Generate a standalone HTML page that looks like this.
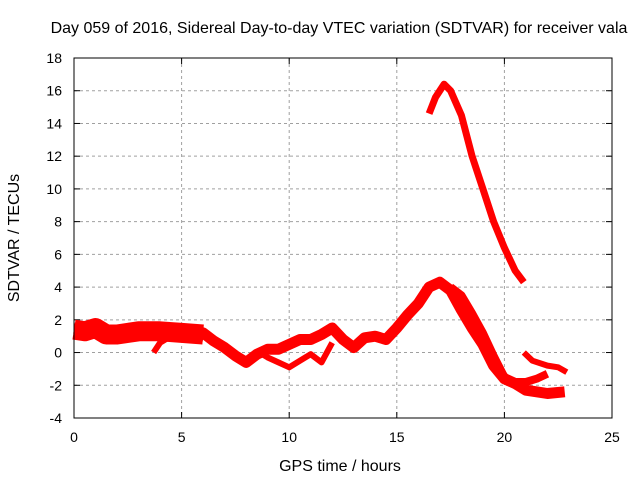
<!DOCTYPE html>
<html><head><meta charset="utf-8"><style>
body{margin:0;background:#fff}
svg{display:block;font-family:"Liberation Sans",sans-serif;font-size:14px}
</style></head><body>
<svg id="c" width="640" height="480">
<rect width="640" height="480" fill="#fff"/>
<text x="339" y="33" text-anchor="middle" style="font-size:16px">Day 059 of 2016, Sidereal Day-to-day VTEC variation (SDTVAR) for receiver vala</text>
<text x="340" y="471" text-anchor="middle" style="font-size:16px">GPS time / hours</text>
<text transform="translate(19,238) rotate(-90)" text-anchor="middle" style="font-size:16px">SDTVAR / TECUs</text>
<g id="grid"></g><g id="axes"></g><g id="series"></g>
<rect x="74" y="58" width="538" height="360" fill="none" stroke="#000"/>
</svg>
<script>
const xTicks=[0,5,10,15,20,25];
const yTicks=[-4,-2,0,2,4,6,8,10,12,14,16,18];
const mainX=[0,0.5,1,1.5,2,3,4,5,6,6.5,7,7.5,8,8.5,9,9.5,10,10.5,11,11.5,12,12.5,13,13.5,14,14.5,15,15.5,16,16.5,17,17.5,18,18.5,19,19.5,20,20.5,21,22,22.8];
const mainY=[1.5,1.4,1.6,1.2,1.2,1.4,1.4,1.3,1.2,0.7,0.3,-0.2,-0.6,-0.1,0.2,0.2,0.5,0.8,0.8,1.1,1.5,0.8,0.3,0.9,1.0,0.8,1.5,2.3,3.0,4.0,4.3,3.8,2.6,1.5,0.5,-0.8,-1.6,-1.9,-2.3,-2.5,-2.4];
const earlyX=[0,0.5,1,1.5,2,3,4,5,6];
const earlyY=[1.4,1.3,1.5,1.1,1.1,1.3,1.3,1.2,1.1];
const branchX=[17.5,18,18.5,19,19.5,20,20.5,21,21.5,22];
const branchY=[4.0,3.5,2.4,1.2,-0.2,-1.5,-1.8,-1.8,-1.6,-1.3];
const upperX=[16.5,16.8,17.2,17.5,18,18.5,19,19.5,20,20.5,20.9];
const upperY=[14.6,15.6,16.4,16.0,14.5,12.0,10.0,8.0,6.4,5.0,4.3];
const tailX=[20.9,21.3,22,22.5,22.9];
const tailY=[0,-0.5,-0.8,-0.9,-1.2];
const lowAX=[3.7,4,4.5,5,6];
const lowAY=[0,0.6,1.0,1.1,0.8];
const lowBX=[8.5,9,9.5,10,10.5,11,11.5,12];
const lowBY=[0.1,-0.3,-0.6,-0.9,-0.5,-0.1,-0.6,0.6];
const X=v=>74+v*538/25, Y=v=>418-(v+4)*360/22;
const NS='http://www.w3.org/2000/svg';
const g=document.getElementById('grid'),a=document.getElementById('axes'),s=document.getElementById('series');
function mk(t,at,p){const e=document.createElementNS(NS,t);for(const k in at)e.setAttribute(k,at[k]);p.appendChild(e);return e;}
xTicks.forEach(t=>{
 if(t>0&&t<25){const l=mk('line',{x1:X(t),x2:X(t),y1:58,y2:418,stroke:'#a0a0a0','stroke-dasharray':'3,3'},g);
 
 }
 mk('line',{x1:X(t),x2:X(t),y1:418,y2:412,stroke:'#000'},a);
 mk('line',{x1:X(t),x2:X(t),y1:58,y2:64,stroke:'#000'},a);
 const tx=mk('text',{x:X(t),y:442,'text-anchor':'middle'},a);tx.textContent=t;
 
 
});
yTicks.forEach(t=>{
 if(t>-4&&t<18){const l=mk('line',{x1:74,x2:612,y1:Y(t),y2:Y(t),stroke:'#a0a0a0','stroke-dasharray':'3,3'},g);
 
 }
 mk('line',{x1:74,x2:80,y1:Y(t),y2:Y(t),stroke:'#000'},a);
 mk('line',{x1:606,x2:612,y1:Y(t),y2:Y(t),stroke:'#000'},a);
 const tx=mk('text',{x:62,y:Y(t)+5,'text-anchor':'end'},a);tx.textContent=t;
 
 
});
function series(xs,ys,w,name){
 const d=xs.map((x,i)=>(i?'L':'M')+X(x).toFixed(1)+','+Y(ys[i]).toFixed(1)).join('');
 const p=mk('path',{d:d,fill:'none',stroke:'#ff0000','stroke-width':w,'stroke-linejoin':'round','stroke-linecap':'butt'},s);
 
 
}
series(mainX,mainY,11,'series-main');
series(earlyX,earlyY,20,'series-early-band');
series(branchX,branchY,8,'series-branch');
series(upperX,upperY,7,'series-upper');
series(tailX,tailY,6,'series-tail');
series(lowAX,lowAY,6,'series-low-a');
series(lowBX,lowBY,6,'series-low-b');
</script>
</body></html>
